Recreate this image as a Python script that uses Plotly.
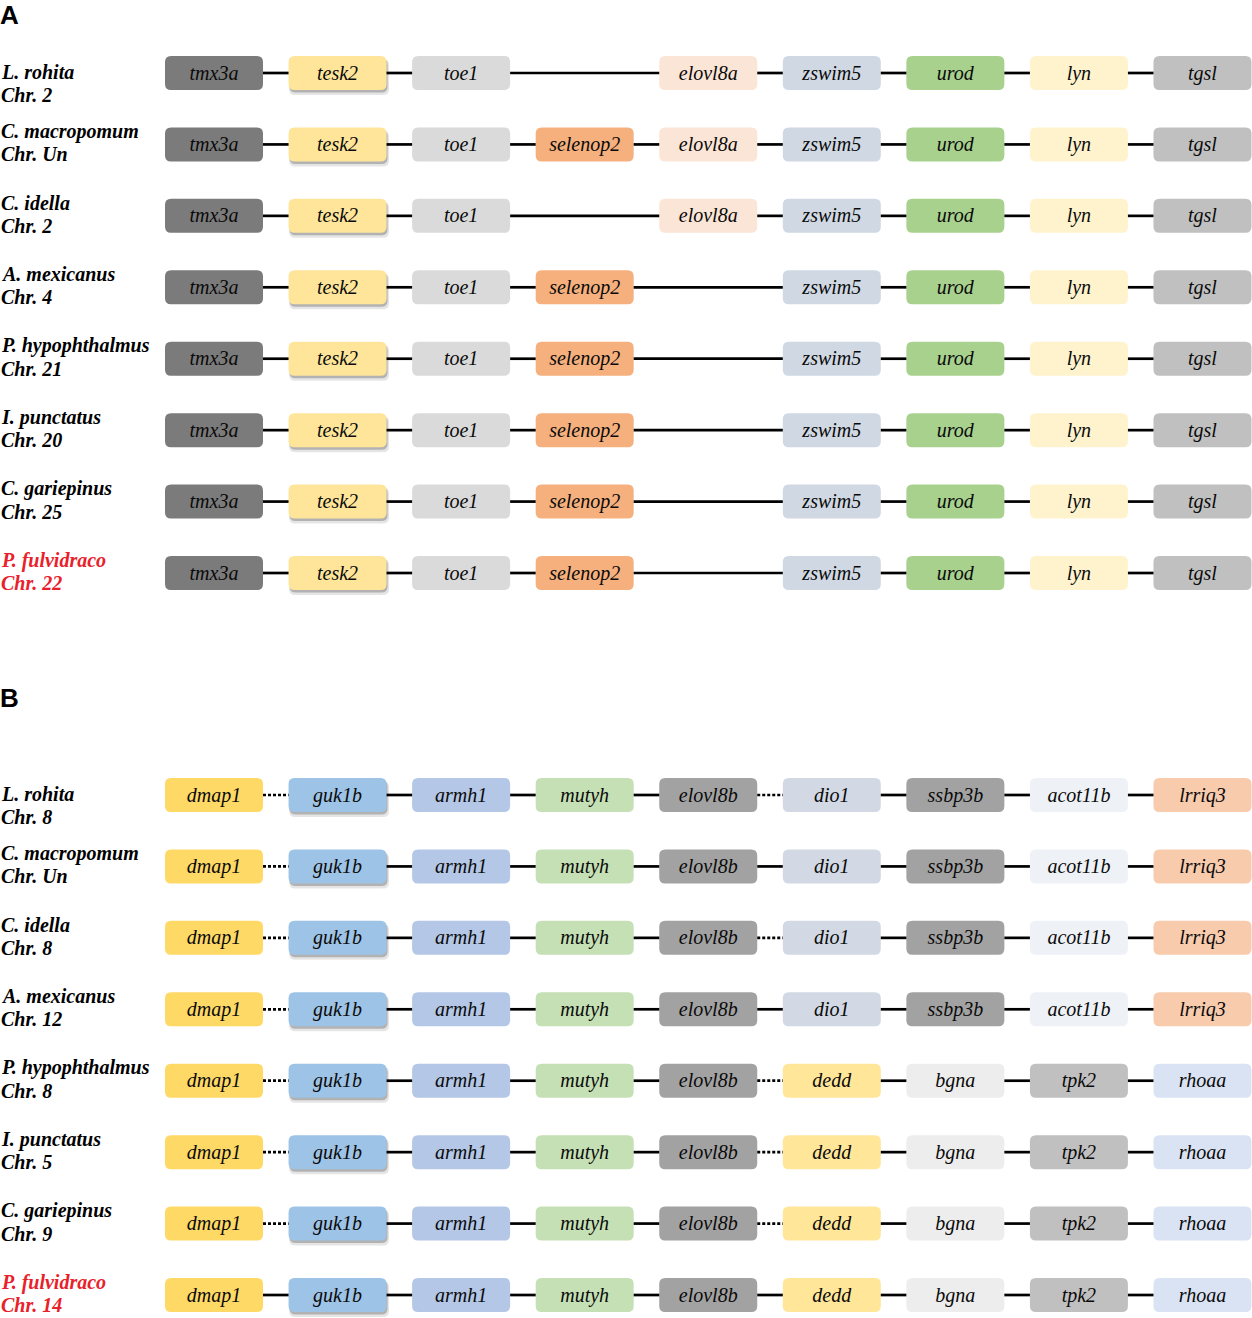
import plotly.graph_objects as go

# ---- data ----
genes_a = ["tmx3a", "tesk2", "toe1", "selenop2", "elovl8a", "zswim5", "urod", "lyn", "tgsl"]
species_a = ["L. rohita", "C. macropomum", "C. idella", "A. mexicanus",
             "P. hypophthalmus", "I. punctatus", "C. gariepinus", "P. fulvidraco"]
chrom_a = ["Chr. 2", "Chr. Un", "Chr. 2", "Chr. 4", "Chr. 21", "Chr. 20", "Chr. 25", "Chr. 22"]
# 1 = gene present in the block, 0 = absent
present_a = [
    [1, 1, 1, 0, 1, 1, 1, 1, 1],
    [1, 1, 1, 1, 1, 1, 1, 1, 1],
    [1, 1, 1, 0, 1, 1, 1, 1, 1],
    [1, 1, 1, 1, 0, 1, 1, 1, 1],
    [1, 1, 1, 1, 0, 1, 1, 1, 1],
    [1, 1, 1, 1, 0, 1, 1, 1, 1],
    [1, 1, 1, 1, 0, 1, 1, 1, 1],
    [1, 1, 1, 1, 0, 1, 1, 1, 1],
]

genes_b_top = ["dmap1", "guk1b", "armh1", "mutyh", "elovl8b", "dio1", "ssbp3b", "acot11b", "lrriq3"]
genes_b_bot = ["dmap1", "guk1b", "armh1", "mutyh", "elovl8b", "dedd", "bgna", "tpk2", "rhoaa"]
species_b = species_a
chrom_b = ["Chr. 8", "Chr. Un", "Chr. 8", "Chr. 12", "Chr. 8", "Chr. 5", "Chr. 9", "Chr. 14"]
genes_b = [genes_b_top] * 4 + [genes_b_bot] * 4
# connector between neighbours: s = solid, d = dotted
links_b = [
    "dsssdsss",
    "dsssssss",
    "dsssdsss",
    "dsssssss",
    "dsssdsss",
    "dsssdsss",
    "dsssdsss",
    "ssssssss",
]
highlight = "P. fulvidraco"

gene_colors = {
    "tmx3a": "#7b7b7b", "tesk2": "#fee59a", "toe1": "#dadada", "selenop2": "#f5b07e",
    "elovl8a": "#fbe5d6", "zswim5": "#d0d8e3", "urod": "#a8d18e", "lyn": "#fff3cd",
    "tgsl": "#c0c0c0",
    "dmap1": "#ffd966", "guk1b": "#9dc3e6", "armh1": "#b4c7e7", "mutyh": "#c5e0b4",
    "elovl8b": "#a2a2a2", "dio1": "#d2d9e4", "ssbp3b": "#a2a2a2", "acot11b": "#eef1f6",
    "lrriq3": "#f8cbad", "dedd": "#ffe699", "bgna": "#ededed", "tpk2": "#c0c0c0",
    "rhoaa": "#dae3f3",
}
shadowed = {"tesk2", "guk1b"}

SERIF = "Liberation Serif, Times New Roman, Times, serif"

# ---- geometry (pixel scale of the axes) ----
W, H = 1252, 1318
col0_px, col_pitch = 214.0, 123.56
row_pitch = 71.43
rowA0_px, rowB0_px = 73.0, 795.0
hw = 49 / col_pitch      # half box width in column units
hh = 17 / row_pitch      # half box height in row units
rx, ry = 6 / col_pitch, 6 / row_pitch
text_dy = 1.5 / row_pitch  # gene names sit a touch below the box centre


def rrect(xc, yc, dx=0.0, dy=0.0, grow=0.0):
    x0, x1 = xc - hw - grow + dx, xc + hw + grow + dx
    y0, y1 = yc - hh - grow * col_pitch / row_pitch + dy, yc + hh + grow * col_pitch / row_pitch + dy
    return (f"M{x0+rx},{y0} L{x1-rx},{y0} Q{x1},{y0} {x1},{y0+ry} "
            f"L{x1},{y1-ry} Q{x1},{y1} {x1-rx},{y1} L{x0+rx},{y1} "
            f"Q{x0},{y1} {x0},{y1-ry} L{x0},{y0+ry} Q{x0},{y0} {x0+rx},{y0} Z")


fig = go.Figure()
shapes = []
annotations = []


def draw_panel(yref, gene_rows, links, species, chroms):
    ax = "y" if yref == "y" else "y2"
    tx, ty, tt = [], [], []
    solid_x, solid_y, dot_x, dot_y = [], [], [], []
    for r, row in enumerate(gene_rows):
        cols = [c for c, g in enumerate(row) if g is not None]
        for c in cols:
            g = row[c]
            if g in shadowed:
                shapes.append(dict(type="path", path=rrect(c, r, 1.5 / col_pitch, 4 / row_pitch, 1 / col_pitch),
                                   xref="x", yref=yref, fillcolor="rgba(0,0,0,0.10)", line_width=0, layer="below"))
                shapes.append(dict(type="path", path=rrect(c, r, 1 / col_pitch, 2.5 / row_pitch),
                                   xref="x", yref=yref, fillcolor="rgba(0,0,0,0.22)", line_width=0, layer="below"))
            shapes.append(dict(type="path", path=rrect(c, r), xref="x", yref=yref,
                               fillcolor=gene_colors[g], line_width=0, layer="below"))
            tx.append(c)
            ty.append(r + text_dy)
            tt.append(g)
        for k in range(len(cols) - 1):
            a, b = cols[k], cols[k + 1]
            style = links[r][a] if links else "s"
            xs, ys = (dot_x, dot_y) if style == "d" else (solid_x, solid_y)
            xs += [a + hw, b - hw, None]
            ys += [r, r, None]
        first = r == 0
        col = "#e8212a" if species[r] == highlight else "#000000"
        for text, off in ((species[r], (-1 if first else -13)), (chroms[r], (22 if first else 10))):
            annotations.append(dict(text=f"<b><i>{text}</i></b>", x=0, xref="paper", xanchor="left", xshift=-1,
                                    y=r + off / row_pitch, yref=yref, yanchor="middle", showarrow=False,
                                    font=dict(family=SERIF, size=20, color=col)))
    fig.add_trace(go.Scatter(x=solid_x, y=solid_y, mode="lines", yaxis=ax,
                             line=dict(color="#000000", width=2.7), hoverinfo="skip"))
    fig.add_trace(go.Scatter(x=dot_x, y=dot_y, mode="lines", yaxis=ax,
                             line=dict(color="#000000", width=2.7, dash="3px,2px"), hoverinfo="skip"))
    fig.add_trace(go.Scatter(x=tx, y=ty, text=tt, mode="text", yaxis=ax,
                             textfont=dict(family=SERIF, size=20, color="#0a0a0a", style="italic"),
                             hoverinfo="skip"))


rows_a = [[g if p else None for g, p in zip(genes_a, pr)] for pr in present_a]
draw_panel("y", rows_a, None, species_a, chrom_a)
draw_panel("y2", genes_b, links_b, species_b, chrom_b)

annotations.append(dict(text="<b>A</b>", x=0, xref="paper", xanchor="left", xshift=-2, y=1 - 15 / H, yref="paper",
                        yanchor="middle", showarrow=False, font=dict(family="Liberation Sans", size=26, color="#000")))
annotations.append(dict(text="<b>B</b>", x=0, xref="paper", xanchor="left", xshift=-2, y=1 - 698 / H, yref="paper",
                        yanchor="middle", showarrow=False, font=dict(family="Liberation Sans", size=26, color="#000")))

# axis ranges chosen so that 1 column / 1 row map to fixed pixel pitches
xr = [-col0_px / col_pitch, (W - col0_px) / col_pitch]
splitA, splitB = 660, 680
yA = [(splitA - rowA0_px) / row_pitch, (0 - rowA0_px) / row_pitch]
yB = [(H - rowB0_px) / row_pitch, (splitB - rowB0_px) / row_pitch]

hidden = dict(visible=False, showgrid=False, zeroline=False, fixedrange=True)
fig.update_layout(
    width=W, height=H,
    margin=dict(l=0, r=0, t=0, b=0),
    paper_bgcolor="white", plot_bgcolor="white",
    showlegend=False,
    xaxis=dict(range=xr, domain=[0, 1], **hidden),
    yaxis=dict(range=yA, domain=[1 - splitA / H, 1], anchor="x", **hidden),
    yaxis2=dict(range=yB, domain=[0, 1 - splitB / H], anchor="x", **hidden),
    shapes=shapes,
    annotations=annotations,
)

fig.write_html("out.html", config={"displayModeBar": False},
               post_script="document.body.style.margin='0px';document.body.style.overflow='hidden';")
